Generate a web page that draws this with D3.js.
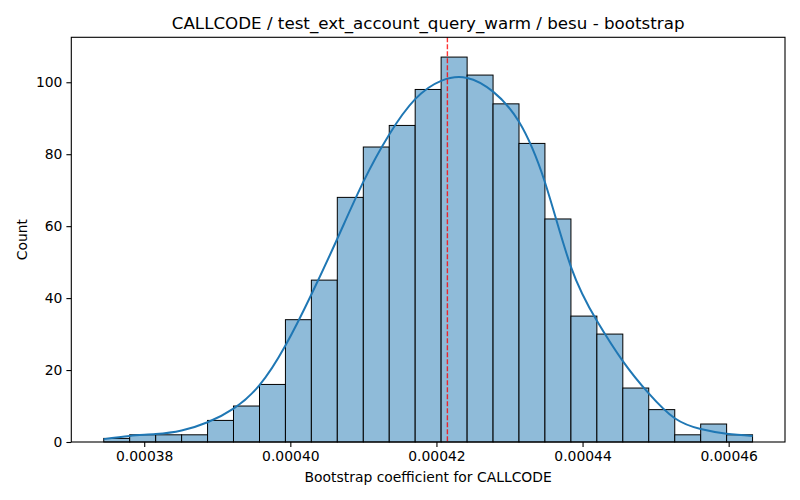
<!DOCTYPE html>
<html>
<head>
<meta charset="utf-8">
<script src="https://cdn.jsdelivr.net/npm/d3@7"></script>
<style>
    body { margin: 0; background: white; }
    text { font-family: "DejaVu Sans", sans-serif; fill: black; }
</style>
</head>
<body>
<div id="chart"></div>
<script>
// histogram bin edges (bootstrap coefficient)
const binEdges = [0.00037446, 0.00037801, 0.00038157, 0.00038512, 0.00038867, 0.00039222,
    0.00039578, 0.00039933, 0.00040288, 0.00040643, 0.00040999, 0.00041354, 0.00041709,
    0.00042064, 0.00042420, 0.00042775, 0.00043130, 0.00043485, 0.00043841, 0.00044196,
    0.00044551, 0.00044906, 0.00045262, 0.00045617, 0.00045972, 0.00046327];
// count per bin
const binCounts = [1, 2, 2, 2, 6, 10, 16, 34, 45, 68, 82, 88, 98, 107, 102, 94, 83, 62, 35, 30, 15, 9, 2, 5, 2];
const kdeCounts = [0.8, 1.7, 2.2, 3.2, 5.5, 9.3, 15.8, 26.8, 41, 56.5, 72.3, 85.5, 95.3,
    100.4, 101.2, 97.4, 89, 72.2, 48.7, 33.7, 22.5, 13.5, 6.6, 3.6, 2.3, 1.7];
const meanValue = 0.0004215;
const xTicks = [0.00038, 0.00040, 0.00042, 0.00044, 0.00046];
const yTicks = [0, 20, 40, 60, 80, 100];

const width = 800, height = 500;
const margin = {left: 71.3, right: 15, top: 37.3, bottom: 58};
const innerW = width - margin.left - margin.right;
const innerH = height - margin.top - margin.bottom;

const svg = d3.select('#chart').append('svg')
    .attr('width', width)
    .attr('height', height);

const g = svg.append('g')
    .attr('transform', `translate(${margin.left},${margin.top})`);

// 5% padding like matplotlib
const span = binEdges[binEdges.length - 1] - binEdges[0];
const x = d3.scaleLinear()
    .domain([binEdges[0] - span * 0.05, binEdges[binEdges.length - 1] + span * 0.05])
    .range([0, innerW]);
const y = d3.scaleLinear()
    .domain([0, 112.5])
    .range([innerH, 0]);

const bins = binCounts.map((c, i) => ({x0: binEdges[i], x1: binEdges[i + 1], count: c}));

g.selectAll('.bar')
    .data(bins)
    .enter()
    .append('rect')
    .attr('class', 'bar')
    .attr('x', d => x(d.x0))
    .attr('y', d => y(d.count))
    .attr('width', d => x(d.x1) - x(d.x0))
    .attr('height', d => y(0) - y(d.count))
    .style('fill', '#8fbbd9')
    .style('stroke', 'black')
    .style('stroke-width', 1);

const kdePoints = kdeCounts.map((v, i) => [binEdges[i], v]);
const line = d3.line()
    .x(d => x(d[0]))
    .y(d => y(d[1]))
    .curve(d3.curveNatural);

g.append('path')
    .datum(kdePoints)
    .attr('d', line)
    .style('fill', 'none')
    .style('stroke', '#1f77b4')
    .style('stroke-width', 2);

g.append('line')
    .attr('x1', x(meanValue)).attr('x2', x(meanValue))
    .attr('y1', 0).attr('y2', innerH)
    .style('stroke', '#ff0000')
    .style('stroke-opacity', 0.8)
    .style('stroke-width', 1.4)
    .style('stroke-dasharray', '5,2');

// axes
const xAxis = d3.axisBottom(x)
    .tickValues(xTicks)
    .tickFormat(d3.format('.5f'))
    .tickSize(4.9)
    .tickPadding(4);
const yAxis = d3.axisLeft(y)
    .tickValues(yTicks)
    .tickSize(4.9)
    .tickPadding(4);

const gx = g.append('g')
    .attr('transform', `translate(0,${innerH})`)
    .call(xAxis);
const gy = g.append('g').call(yAxis);

[gx, gy].forEach(a => {
    a.select('.domain').remove();
    a.selectAll('.tick line').style('stroke', 'black').style('stroke-width', 1.1);
    a.selectAll('.tick text').style('font-size', '13.9px').style('font-family', '"DejaVu Sans"');
});

g.append('rect')
    .attr('width', innerW)
    .attr('height', innerH)
    .style('fill', 'none')
    .style('stroke', 'black')
    .style('stroke-width', 1.1);

svg.append('text')
    .attr('x', margin.left + innerW / 2)
    .attr('y', 29)
    .style('text-anchor', 'middle')
    .style('font-size', '16.7px')
    .text('CALLCODE / test_ext_account_query_warm / besu - bootstrap');

svg.append('text')
    .attr('x', margin.left + innerW / 2)
    .attr('y', 482)
    .style('text-anchor', 'middle')
    .style('font-size', '13.9px')
    .text('Bootstrap coefficient for CALLCODE');

svg.append('text')
    .attr('transform', `translate(26.5,${margin.top + innerH / 2}) rotate(-90)`)
    .style('text-anchor', 'middle')
    .style('font-size', '13.9px')
    .text('Count');
</script>
</body>
</html>
